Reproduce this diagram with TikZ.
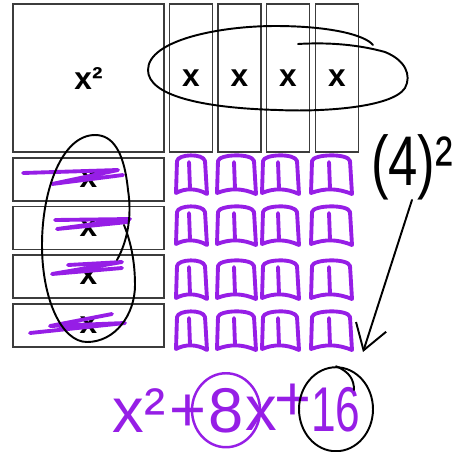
\documentclass[tikz,border=0pt]{standalone}
\usepackage{fontspec}
\setmainfont{Liberation Sans}
\usepackage{graphicx}
\usepackage{tikz}
\usetikzlibrary{arrows.meta,shapes.geometric}
\definecolor{viola}{RGB}{150,30,230}
\definecolor{bordo}{RGB}{60,60,60}

\begin{document}
\begin{tikzpicture}[x=0.02cm, y=-0.02cm, >={Straight Barb[length=14pt,width=18pt]},
  tile/.style={draw=bordo, line width=0.9pt, inner sep=0pt, outer sep=0pt,
    font=\bfseries\fontsize{18}{18}\selectfont},
  mano/.style={line width=1.1pt, line cap=round, line join=round},
  penna/.style={viola, line width=2.2pt, line cap=round, line join=round},
  scritta/.style={viola, inner sep=0pt, anchor=base, font=\fontsize{36}{36}\selectfont}]
  \useasboundingbox (0,0) rectangle (453,451);

  % Quadrato x^2
  \node[tile, minimum width=3.02cm, minimum height=2.96cm] (qx) at (88.5,78) {x²};
  % Barre verticali
  \foreach \i/\cx in {1/191,2/239.5,3/288,4/337}
    \node[tile, minimum width=0.86cm, minimum height=2.96cm] (v\i) at (\cx,78) {x};
  % Barre orizzontali
  \foreach \i/\cy in {1/179.3,2/228,3/276.5,4/325.3}
    \node[tile, minimum width=3.02cm, minimum height=0.86cm] (h\i) at (88.5,\cy) {x};

  % Barre cancellate
  \draw[penna] (23,173) -- (118,170) -- (52,184) -- (123,175);
  \draw[penna] (55,220) -- (130,219) -- (57,229) -- (128,222);
  \draw[penna] (68,265) -- (122,262) -- (52,274) -- (122,268);
  \draw[penna] (30,333) -- (125,323) -- (50,326) -- (112,314);

  % Ellisse a sinistra
  \draw[mano] (117,260) .. controls (128,240) and (132,215) .. (128,190)
    .. controls (124,150) and (112,135) .. (95,135)
    .. controls (62,135) and (42,190) .. (42,245)
    .. controls (42,300) and (62,342) .. (87,342)
    .. controls (115,342) and (135,315) .. (135,285)
    .. controls (135,255) and (128,235) .. (124,225);
  % Ellisse in alto
  \draw[mano] (298,44) .. controls (330,42) and (360,45) .. (385,52)
    .. controls (405,60) and (412,75) .. (405,88)
    .. controls (392,108) and (320,112) .. (278,110)
    .. controls (200,108) and (148,95) .. (148,70)
    .. controls (148,40) and (220,26) .. (275,26)
    .. controls (330,26) and (365,35) .. (373,45);

  % Quadratini da 1
  \foreach \cx/\w in {191/15,236/19,280/18,331/20}
    \foreach \cy in {175,226,280,331} {
      \draw[penna] (\cx-\w,\cy+18) -- (\cx-\w+1,\cy-14)
        .. controls (\cx-\w+2,\cy-21) and (\cx+\w-3,\cy-22) .. (\cx+\w-1,\cy-14)
        -- (\cx+\w+1,\cy+19) .. controls (\cx+6,\cy+13) and (\cx-6,\cy+13) .. cycle;
      \draw[penna] (\cx-2,\cy-13) -- (\cx-1,\cy+14);
    }

  % (4)^2 e freccia
  \node[inner sep=0pt, anchor=base, font=\fontsize{40}{40}\selectfont]
    (quadrato) at (412,185) {\scalebox{0.75}[1]{(4)²}};
  \coordinate (punta) at (363,352);
  \draw[mano,->] (quadrato.south) -- (punta);

  % Risultato
  \node[scritta] (xq) at (139,432) {x²};
  \node[scritta] (piu1) at (188,431) {+};
  \node[scritta, ellipse, draw=viola, line width=1.4pt, minimum width=1.36cm,
    minimum height=1.48cm] (otto) at (226,432) {8};
  \node[scritta] (xx) at (261,430) {x};
  \node[scritta] (piu2) at (293,420) {+};
  \node[scritta, ellipse, draw=black, line width=1.1pt, minimum width=1.48cm,
    minimum height=1.68cm] (sedici) at (336,431) {\scalebox{0.7}[1]{16}};
  \draw[mano] (sedici.north) .. controls (350,372) and (354,380) .. (354,390);
\end{tikzpicture}
\end{document}
